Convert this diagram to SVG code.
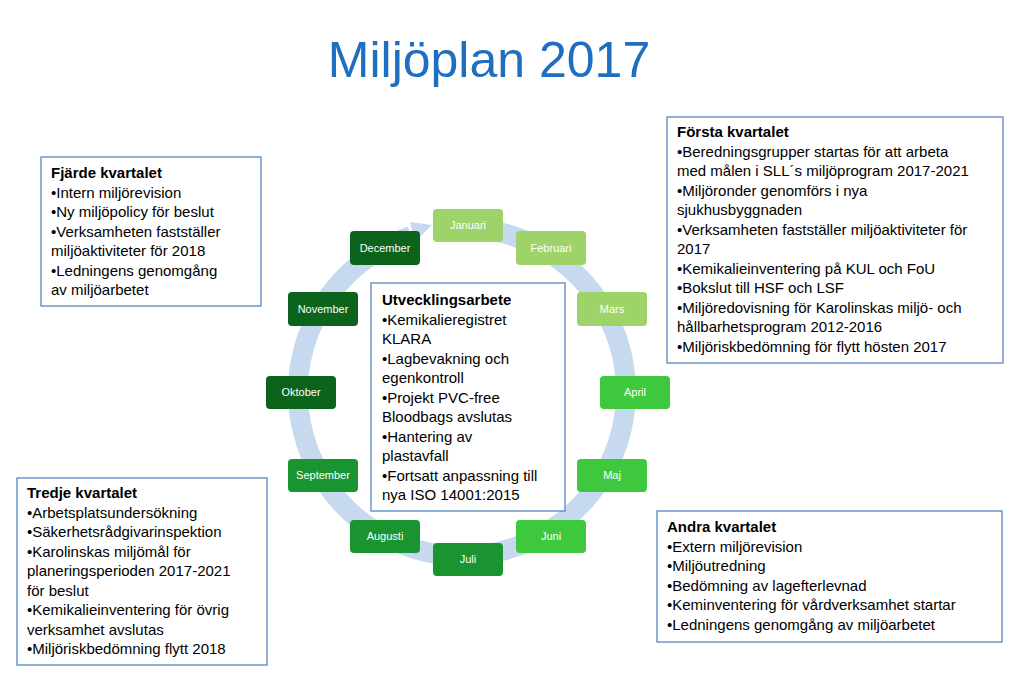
<svg xmlns="http://www.w3.org/2000/svg" width="1024" height="674" viewBox="0 0 1024 674">
<defs>
<style>
.t{font-family:"Liberation Sans",Arial,sans-serif;font-size:15px;fill:#000}
.b{font-weight:bold}
.box{fill:#fff;stroke:#4a7ebb;stroke-width:1.2}
.m{font-family:"Liberation Sans",Arial,sans-serif;font-size:11px;fill:#fff;text-anchor:middle}
</style>
</defs>
<rect width="1024" height="674" fill="#fff"/>
<text x="489" y="77" font-family="Liberation Sans,Arial,sans-serif" font-size="50" fill="#1f6fc0" text-anchor="middle">Miljöplan 2017</text>
<g id="connectors">
<path d="M 468 228 A 164 164 0 1 1 411 236" fill="none" stroke="#c6d9ef" stroke-width="20"/>
<polygon points="410,222 432,225 415,242" fill="#c6d9ef"/>
</g>
<g id="months">
<g id="jan"><rect x="433" y="209" width="70" height="33" rx="4" fill="#9ed36a"/><text class="m" x="468" y="229">Januari</text></g>
<g id="feb"><rect x="516" y="231" width="70" height="34" rx="4" fill="#9ed36a"/><text class="m" x="551" y="252">Februari</text></g>
<g id="mar"><rect x="577" y="292" width="70" height="34" rx="4" fill="#9ed36a"/><text class="m" x="612" y="313">Mars</text></g>
<g id="apr"><rect x="600" y="376" width="70" height="33" rx="4" fill="#3ec83e"/><text class="m" x="635" y="396">April</text></g>
<g id="maj"><rect x="577" y="459" width="70" height="33" rx="4" fill="#3ec83e"/><text class="m" x="612" y="479">Maj</text></g>
<g id="jun"><rect x="516" y="520" width="70" height="33" rx="4" fill="#3ec83e"/><text class="m" x="551" y="540">Juni</text></g>
<g id="jul"><rect x="433" y="543" width="70" height="33" rx="4" fill="#1a9430"/><text class="m" x="468" y="563">Juli</text></g>
<g id="aug"><rect x="350" y="520" width="70" height="33" rx="4" fill="#1a9430"/><text class="m" x="385" y="540">Augusti</text></g>
<g id="sep"><rect x="288" y="459" width="70" height="33" rx="4" fill="#1a9430"/><text class="m" x="323" y="479">September</text></g>
<g id="okt"><rect x="266" y="376" width="70" height="33" rx="4" fill="#0b631c"/><text class="m" x="301" y="396">Oktober</text></g>
<g id="nov"><rect x="288" y="292" width="70" height="34" rx="4" fill="#0b631c"/><text class="m" x="323" y="313">November</text></g>
<g id="dec"><rect x="350" y="231" width="70" height="34" rx="4" fill="#0b631c"/><text class="m" x="385" y="252">December</text></g>
</g>
<g id="center">
<rect class="box" x="371" y="283" width="194" height="228"/>
<text class="t" x="382" y="305"><tspan class="b">Utvecklingsarbete</tspan><tspan x="382" dy="19.5">•Kemikalieregistret</tspan><tspan x="382" dy="19.5">KLARA</tspan><tspan x="382" dy="19.5">•Lagbevakning och</tspan><tspan x="382" dy="19.5">egenkontroll</tspan><tspan x="382" dy="19.5">•Projekt PVC-free</tspan><tspan x="382" dy="19.5">Bloodbags avslutas</tspan><tspan x="382" dy="19.5">•Hantering av</tspan><tspan x="382" dy="19.5">plastavfall</tspan><tspan x="382" dy="19.5">•Fortsatt anpassning till</tspan><tspan x="382" dy="19.5">nya ISO 14001:2015</tspan></text>
</g>
<g id="fjarde">
<rect class="box" x="41" y="157" width="220" height="149"/>
<text class="t" x="51" y="178"><tspan class="b">Fjärde kvartalet</tspan><tspan x="51" dy="19.5">•Intern miljörevision</tspan><tspan x="51" dy="19.5">•Ny miljöpolicy för beslut</tspan><tspan x="51" dy="19.5">•Verksamheten fastställer</tspan><tspan x="51" dy="19.5">miljöaktiviteter för 2018</tspan><tspan x="51" dy="19.5">•Ledningens genomgång</tspan><tspan x="51" dy="19.5">av miljöarbetet</tspan></text>
</g>
<g id="forsta">
<rect class="box" x="667" y="117" width="336" height="246"/>
<text class="t" x="677" y="137"><tspan class="b">Första kvartalet</tspan><tspan x="677" dy="19.5">•Beredningsgrupper startas för att arbeta</tspan><tspan x="677" dy="19.5">med målen i SLL´s miljöprogram 2017-2021</tspan><tspan x="677" dy="19.5">•Miljöronder genomförs i nya</tspan><tspan x="677" dy="19.5">sjukhusbyggnaden</tspan><tspan x="677" dy="19.5">•Verksamheten fastställer miljöaktiviteter för</tspan><tspan x="677" dy="19.5">2017</tspan><tspan x="677" dy="19.5">•Kemikalieinventering på KUL och FoU</tspan><tspan x="677" dy="19.5">•Bokslut till HSF och LSF</tspan><tspan x="677" dy="19.5">•Miljöredovisning för Karolinskas miljö- och</tspan><tspan x="677" dy="19.5">hållbarhetsprogram 2012-2016</tspan><tspan x="677" dy="19.5">•Miljöriskbedömning för flytt hösten 2017</tspan></text>
</g>
<g id="tredje">
<rect class="box" x="17" y="478" width="250" height="187"/>
<text class="t" x="27" y="498"><tspan class="b">Tredje kvartalet</tspan><tspan x="27" dy="19.5">•Arbetsplatsundersökning</tspan><tspan x="27" dy="19.5">•Säkerhetsrådgivarinspektion</tspan><tspan x="27" dy="19.5">•Karolinskas miljömål för</tspan><tspan x="27" dy="19.5">planeringsperioden 2017-2021</tspan><tspan x="27" dy="19.5">för beslut</tspan><tspan x="27" dy="19.5">•Kemikalieinventering för övrig</tspan><tspan x="27" dy="19.5">verksamhet avslutas</tspan><tspan x="27" dy="19.5">•Miljöriskbedömning flytt 2018</tspan></text>
</g>
<g id="andra">
<rect class="box" x="657" y="511" width="345" height="131"/>
<text class="t" x="667" y="532"><tspan class="b">Andra kvartalet</tspan><tspan x="667" dy="19.5">•Extern miljörevision</tspan><tspan x="667" dy="19.5">•Miljöutredning</tspan><tspan x="667" dy="19.5">•Bedömning av lagefterlevnad</tspan><tspan x="667" dy="19.5">•Keminventering för vårdverksamhet startar</tspan><tspan x="667" dy="19.5">•Ledningens genomgång av miljöarbetet</tspan></text>
</g>
</svg>
